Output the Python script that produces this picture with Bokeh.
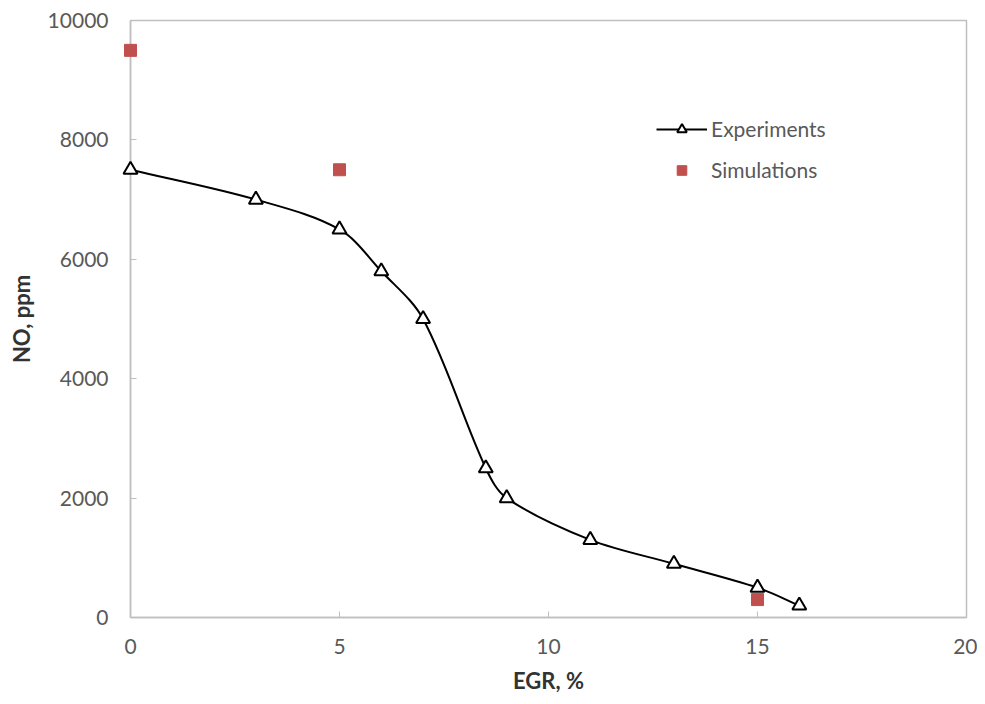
from bokeh.plotting import figure
from bokeh.models import Range1d, Legend, LegendItem, FixedTicker, ColumnDataSource
from bokeh.embed import file_html
from bokeh.resources import INLINE

# ---- data ----
egr_exp = [0, 3, 5, 6, 7, 8.5, 9, 11, 13, 15, 16]
no_exp = [7500, 7000, 6500, 5800, 5000, 2500, 2000, 1300, 900, 500, 200]
egr_sim = [0, 5, 15]
no_sim = [9500, 7500, 300]
x_ticks = [0, 5, 10, 15, 20]
y_ticks = [0, 2000, 4000, 6000, 8000, 10000]

FONT = "Lato"
TXT = "#595959"
AX = "#bfbfbf"

W, H = 977, 696
BL, BR, BT, BB = 130, 11, 20, 79
XMAX, YMAX = 20, 10000
sx = (W - BL - BR) / XMAX   # px per x unit (for curve smoothing only)
sy = (H - BT - BB) / YMAX   # px per y unit

# smooth (Excel-like) Bezier segments built from the data points
n = len(egr_exp)
def pt(i):
    i = max(0, min(n - 1, i))
    return egr_exp[i], no_exp[i]
def dist(i, j):
    (xa, ya), (xb, yb) = pt(i), pt(j)
    return (((xb - xa) * sx) ** 2 + ((yb - ya) * sy) ** 2) ** 0.5
seg = dict(x0=[], y0=[], x1=[], y1=[], cx0=[], cy0=[], cx1=[], cy1=[])
for i in range(n - 1):
    xa, ya = pt(i - 1); xb, yb = pt(i); xc, yc = pt(i + 1); xd, yd = pt(i + 2)
    d_prev, d_cur, d_next = dist(i - 1, i), dist(i, i + 1), dist(i + 1, i + 2)
    k0 = d_cur / (3 * (d_prev + d_cur)) if (d_prev + d_cur) else 0
    k1 = d_cur / (3 * (d_cur + d_next)) if (d_cur + d_next) else 0
    if i == 0:
        k0 = 1 / 3
    if i == n - 2:
        k1 = 1 / 3
    seg["x0"].append(xb); seg["y0"].append(yb)
    seg["x1"].append(xc); seg["y1"].append(yc)
    seg["cx0"].append(xb + (xc - xa) * k0); seg["cy0"].append(yb + (yc - ya) * k0)
    seg["cx1"].append(xc - (xd - xb) * k1); seg["cy1"].append(yc - (yd - yb) * k1)

p = figure(width=W, height=H, output_backend="svg", toolbar_location=None,
           x_range=Range1d(0, XMAX), y_range=Range1d(0, YMAX),
           min_border_left=BL, min_border_right=BR, min_border_top=BT, min_border_bottom=BB)
p.xgrid.visible = False
p.ygrid.visible = False
p.outline_line_color = AX
p.outline_line_width = 1.5

curve = p.bezier(x0="x0", y0="y0", x1="x1", y1="y1", cx0="cx0", cy0="cy0",
                 cx1="cx1", cy1="cy1", source=ColumnDataSource(seg),
                 line_color="black", line_width=2)
tri = p.scatter(egr_exp, no_exp, marker="triangle", size=14, fill_color="white",
                line_color="black", line_width=2)
sq = p.scatter(egr_sim, no_sim, marker="square", size=12, fill_color="#c0504d",
               line_color="#c0504d")
for r in (curve, tri, sq):
    r.level = "overlay"

for ax in (p.xaxis[0], p.yaxis[0]):
    ax.axis_line_color = AX
    ax.axis_line_width = 1.5
    ax.major_tick_line_color = AX
    ax.major_tick_in = 6
    ax.major_tick_out = 0
    ax.minor_tick_line_color = None
    ax.major_label_text_font = FONT
    ax.major_label_text_font_size = "21px"
    ax.major_label_text_color = TXT
    ax.axis_label_text_font = FONT
    ax.axis_label_text_font_size = "22px"
    ax.axis_label_text_font_style = "bold"
    ax.axis_label_text_color = "#333333"

p.xaxis.ticker = FixedTicker(ticks=x_ticks)
p.yaxis.ticker = FixedTicker(ticks=y_ticks)
p.xaxis.axis_label = "EGR, %"
p.yaxis.axis_label = "NO, ppm"
p.xaxis.major_label_standoff = 21
p.yaxis.major_label_standoff = 22
p.xaxis.axis_label_standoff = 10
p.yaxis.axis_label_standoff = 10

legend = Legend(items=[LegendItem(label="Experiments", renderers=[curve, tri]),
                       LegendItem(label="Simulations", renderers=[sq])],
                location=(526, 435), border_line_color=None, background_fill_alpha=0,
                glyph_width=51, glyph_height=24, spacing=16, label_standoff=4,
                padding=0, margin=0, label_text_font=FONT, label_text_font_size="21px",
                label_text_color=TXT)
p.add_layout(legend, "center")

open("out.html", "w").write(file_html(p, INLINE))
